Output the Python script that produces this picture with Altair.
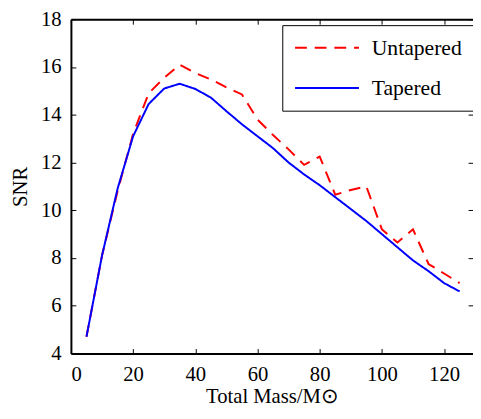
import altair as alt
import pandas as pd

# ---- data ----
mass = [5, 10, 15, 20, 25, 30, 35, 40, 45, 50, 55, 60, 65, 70, 75, 80, 85, 90, 95, 100, 105, 110, 115, 120, 125]
untapered = [4.7, 8.1, 10.8, 13.2, 14.9, 15.55, 16.1, 15.75, 15.48, 15.15, 14.85, 13.8, 13.15, 12.55, 11.9,
             12.25, 10.65, 10.85, 11.0, 9.2, 8.65, 9.2, 7.75, 7.35, 6.95]
tapered = [4.7, 8.1, 10.9, 13.1, 14.45, 15.1, 15.3, 15.08, 14.72, 14.15, 13.6, 13.1, 12.6, 12.0, 11.5,
           11.05, 10.55, 10.05, 9.55, 9.0, 8.45, 7.9, 7.45, 6.95, 6.6]
series_names = ["Untapered", "Tapered"]
series_colors = ["#ff0000", "#0000ff"]
x_ticks = [0, 20, 40, 60, 80, 100, 120]
y_ticks = [4, 6, 8, 10, 12, 14, 16, 18]

rows = []
for name, vals in zip(series_names, [untapered, tapered]):
    for m, v in zip(mass, vals):
        rows.append({"mass": m, "snr": v, "series": name})
df = pd.DataFrame(rows)

FONT = "Liberation Serif"
xs = alt.Scale(domain=[0, 129.3], nice=False, zero=False)
ys = alt.Scale(domain=[4, 18], nice=False, zero=False)

legend = alt.Legend(
    title=None, orient="none", legendX=215, legendY=6,
    symbolType="stroke", symbolSize=4225, symbolStrokeWidth=2,
    labelFont=FONT, labelFontSize=22, labelColor="black", labelOffset=12, labelLimit=300,
    clipHeight=22, rowPadding=19, padding=12,
    strokeColor="black", fillColor="white",
)

lines = alt.Chart(df).mark_line(strokeWidth=2).encode(
    x=alt.X("mass:Q", scale=xs, axis=alt.Axis(
        orient="bottom", values=x_ticks, title="Total Mass/M⊙", grid=False, ticks=False,
        domain=True, domainColor="black", domainWidth=2, labelPadding=10, titlePadding=2, format="d")),
    y=alt.Y("snr:Q", scale=ys, axis=alt.Axis(
        orient="left", values=y_ticks, title="SNR", grid=False, ticks=False,
        domain=True, domainColor="black", domainWidth=2, labelPadding=10, titlePadding=10, format="d")),
    color=alt.Color("series:N", scale=alt.Scale(domain=series_names, range=series_colors), legend=legend),
    strokeDash=alt.StrokeDash("series:N", scale=alt.Scale(domain=series_names, range=[[12, 8], [1, 0]]),
                              legend=legend),
)

ticks_bl = alt.Chart(df).mark_point(opacity=0).encode(
    x=alt.X("mass:Q", scale=xs, axis=alt.Axis(
        orient="bottom", values=x_ticks, offset=-5, tickSize=5, tickColor="black", tickWidth=1,
        labels=False, domain=False, grid=False, title=None)),
    y=alt.Y("snr:Q", scale=ys, axis=alt.Axis(
        orient="left", values=y_ticks, offset=-5, tickSize=5, tickColor="black", tickWidth=1,
        labels=False, domain=False, grid=False, title=None)),
)

frame_top_ticks_right = alt.Chart(df).mark_point(opacity=0).encode(
    x=alt.X("mass:Q", scale=xs, axis=alt.Axis(
        orient="top", values=x_ticks, ticks=False, labels=False, domain=True,
        domainColor="black", domainWidth=2, grid=False, title=None)),
    y=alt.Y("snr:Q", scale=ys, axis=alt.Axis(
        orient="right", values=y_ticks, offset=-5, tickSize=5, tickColor="black", tickWidth=1,
        labels=False, domain=False, grid=False, title=None)),
)

ticks_top = alt.Chart(df).mark_point(opacity=0).encode(
    x=alt.X("mass:Q", scale=xs, axis=alt.Axis(
        orient="top", values=x_ticks, offset=-5, tickSize=5, tickColor="black", tickWidth=1,
        labels=False, domain=False, grid=False, title=None)),
    y=alt.Y("snr:Q", scale=ys, axis=None),
)

chart = alt.layer(ticks_bl, frame_top_ticks_right, ticks_top, lines).resolve_axis(
    x="independent", y="independent"
).properties(
    width=409, height=340,
    padding={"left": 64, "top": 8, "right": 0, "bottom": 54},
    autosize="none",
).configure_view(stroke=None).configure_axis(
    labelFont=FONT, labelFontSize=21, labelColor="black",
    titleFont=FONT, titleFontSize=21, titleFontWeight="normal", titleColor="black",
)

chart.save("out.html", embed_options={"renderer": "svg", "actions": False})
